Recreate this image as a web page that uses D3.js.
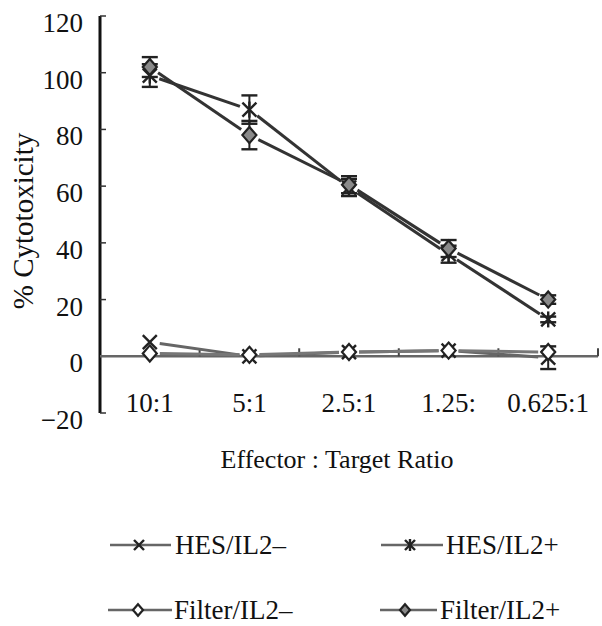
<!DOCTYPE html>
<html>
<head>
<meta charset="utf-8">
<script src="https://cdn.jsdelivr.net/npm/d3@7"></script>
<style>
  html, body { margin: 0; padding: 0; background: #fff; }
  svg text { font-family: 'Liberation Serif' !important; }
</style>
</head>
<body>
<svg id="fig" width="602" height="626" style="display:block"></svg>
<script>
const categories = ["10:1", "5:1", "2.5:1", "1.25:", "0.625:1"];
const yTicks = [-20, 0, 20, 40, 60, 80, 100, 120];

const hesMinus      = [5, 0, 1.5, 2, -0.5];
const hesMinusErr   = [0, 0, 0, 0, 4];
const hesPlus       = [99, 87, 59.5, 36, 13];
const hesPlusErr    = [4, 5, 3, 3, 1];
const filterMinus   = [1, 0.5, 1.5, 2, 1.5];
const filterMinusErr= [0, 0, 0, 0, 0];
const filterPlus    = [102, 78, 60.5, 38, 20];
const filterPlusErr = [3.5, 5, 3, 3, 1.5];

const seriesNames = ["HES/IL2\u2013", "HES/IL2+", "Filter/IL2\u2013", "Filter/IL2+"];

const FONT = "'Liberation Serif'";

const series = [
  { name: seriesNames[0], values: hesMinus,    err: hesMinusErr,    marker: "x",        line: "#666", lw: 3 },
  { name: seriesNames[1], values: hesPlus,     err: hesPlusErr,     marker: "asterisk", line: "#333", lw: 3 },
  { name: seriesNames[2], values: filterMinus, err: filterMinusErr, marker: "diamondOpen", line: "#777", lw: 3 },
  { name: seriesNames[3], values: filterPlus,  err: filterPlusErr,  marker: "diamondFill", line: "#333", lw: 3 }
];

const svg = d3.select("#fig");

const x = d3.scaleBand().domain(categories).range([100, 598]).padding(0);
const y = d3.scaleLinear().domain([-20, 120]).range([413, 16]);
const cx = c => x(c) + x.bandwidth() / 2;

function txt(sel) {
  return sel.attr("font-family", FONT).style("font-family", FONT, "important").attr("fill", "#111");
}

// Y axis
const yAxis = svg.append("g");
yAxis.append("line").attr("x1", 100).attr("x2", 100).attr("y1", y(120)).attr("y2", y(-20))
  .attr("stroke", "#111").attr("stroke-width", 3);
yAxis.selectAll("line.tick").data(yTicks).join("line").attr("class", "tick")
  .attr("x1", 100).attr("x2", 106).attr("y1", d => y(d)).attr("y2", d => y(d))
  .attr("stroke", "#333").attr("stroke-width", 1.5);
txt(yAxis.selectAll("text").data(yTicks).join("text"))
  .attr("x", 83).attr("y", d => y(d) + 16)
  .attr("text-anchor", "end").attr("font-size", 27)
  .text(d => d < 0 ? "\u2212" + Math.abs(d) : d);

// X axis along 0
const xAxis = svg.append("g");
xAxis.append("line").attr("x1", 100).attr("x2", 598).attr("y1", y(0)).attr("y2", y(0))
  .attr("stroke", "#666").attr("stroke-width", 2.5);
const bounds = categories.map(c => x(c) + x.bandwidth());
xAxis.selectAll("line.tick").data(bounds).join("line").attr("class", "tick")
  .attr("x1", d => d).attr("x2", d => d).attr("y1", y(0)).attr("y2", y(0) - 8)
  .attr("stroke", "#444").attr("stroke-width", 2);
txt(xAxis.selectAll("text").data(categories).join("text"))
  .attr("x", d => cx(d)).attr("y", 412)
  .attr("text-anchor", "middle").attr("font-size", 27)
  .text(d => d);

// Axis titles
txt(svg.append("text")).attr("transform", "translate(33,221) rotate(-90)")
  .attr("text-anchor", "middle").attr("font-size", 29).text("% Cytotoxicity");
txt(svg.append("text")).attr("x", 337).attr("y", 468)
  .attr("text-anchor", "middle").attr("font-size", 26).text("Effector : Target Ratio");

// Marker drawing
function drawMarker(g, type, px, py, s) {
  const stroke = "#222";
  if (type === "x" || type === "asterisk") {
    g.append("line").attr("x1", px - s).attr("y1", py - s).attr("x2", px + s).attr("y2", py + s)
      .attr("stroke", stroke).attr("stroke-width", 2.4);
    g.append("line").attr("x1", px - s).attr("y1", py + s).attr("x2", px + s).attr("y2", py - s)
      .attr("stroke", stroke).attr("stroke-width", 2.4);
    if (type === "asterisk") {
      g.append("line").attr("x1", px).attr("y1", py - s - 1).attr("x2", px).attr("y2", py + s + 1)
        .attr("stroke", stroke).attr("stroke-width", 2.4);
    }
  } else {
    const d = `M${px},${py - s * 1.15}L${px + s},${py}L${px},${py + s * 1.15}L${px - s},${py}Z`;
    g.append("path").attr("d", d)
      .attr("fill", type === "diamondFill" ? "#8a8a8a" : "#fff")
      .attr("stroke", stroke).attr("stroke-width", 2.2);
  }
}

const plot = svg.append("g");
const gap = 10;
series.forEach(s => {
  const pts = categories.map((c, i) => [cx(c), y(s.values[i])]);
  for (let i = 0; i < pts.length - 1; i++) {
    const [x1, y1] = pts[i], [x2, y2] = pts[i + 1];
    const len = Math.hypot(x2 - x1, y2 - y1);
    const ux = (x2 - x1) / len, uy = (y2 - y1) / len;
    plot.append("line")
      .attr("x1", x1 + ux * gap).attr("y1", y1 + uy * gap)
      .attr("x2", x2 - ux * gap).attr("y2", y2 - uy * gap)
      .attr("stroke", s.line).attr("stroke-width", s.lw);
  }
});
series.forEach(s => {
  categories.forEach((c, i) => {
    const e = s.err[i];
    if (e > 0) {
      const px = cx(c), top = y(s.values[i] + e), bot = y(s.values[i] - e);
      plot.append("line").attr("x1", px).attr("x2", px).attr("y1", top).attr("y2", bot)
        .attr("stroke", "#222").attr("stroke-width", 2);
      [top, bot].forEach(yy => plot.append("line").attr("x1", px - 8).attr("x2", px + 8)
        .attr("y1", yy).attr("y2", yy).attr("stroke", "#222").attr("stroke-width", 2.4));
    }
  });
});
series.forEach(s => {
  categories.forEach((c, i) => drawMarker(plot, s.marker, cx(c), y(s.values[i]), 7));
});

// Legend
const legendPos = [
  { lx1: 110, lx2: 171, mx: 139, tx: 175, ty: 554 },
  { lx1: 381, lx2: 443, mx: 410, tx: 446, ty: 554 },
  { lx1: 108, lx2: 172, mx: 138, tx: 174, ty: 619 },
  { lx1: 380, lx2: 437, mx: 405, tx: 440, ty: 619 }
];
const legend = svg.append("g");
series.forEach((s, i) => {
  const p = legendPos[i];
  const ly = p.ty - 9;
  legend.append("line").attr("x1", p.lx1).attr("x2", p.lx2).attr("y1", ly).attr("y2", ly)
    .attr("stroke", "#666").attr("stroke-width", 2.5);
  drawMarker(legend, s.marker, p.mx, ly, 5);
  txt(legend.append("text")).attr("x", p.tx).attr("y", p.ty).attr("font-size", 27).text(s.name);
});
</script>
</body>
</html>
